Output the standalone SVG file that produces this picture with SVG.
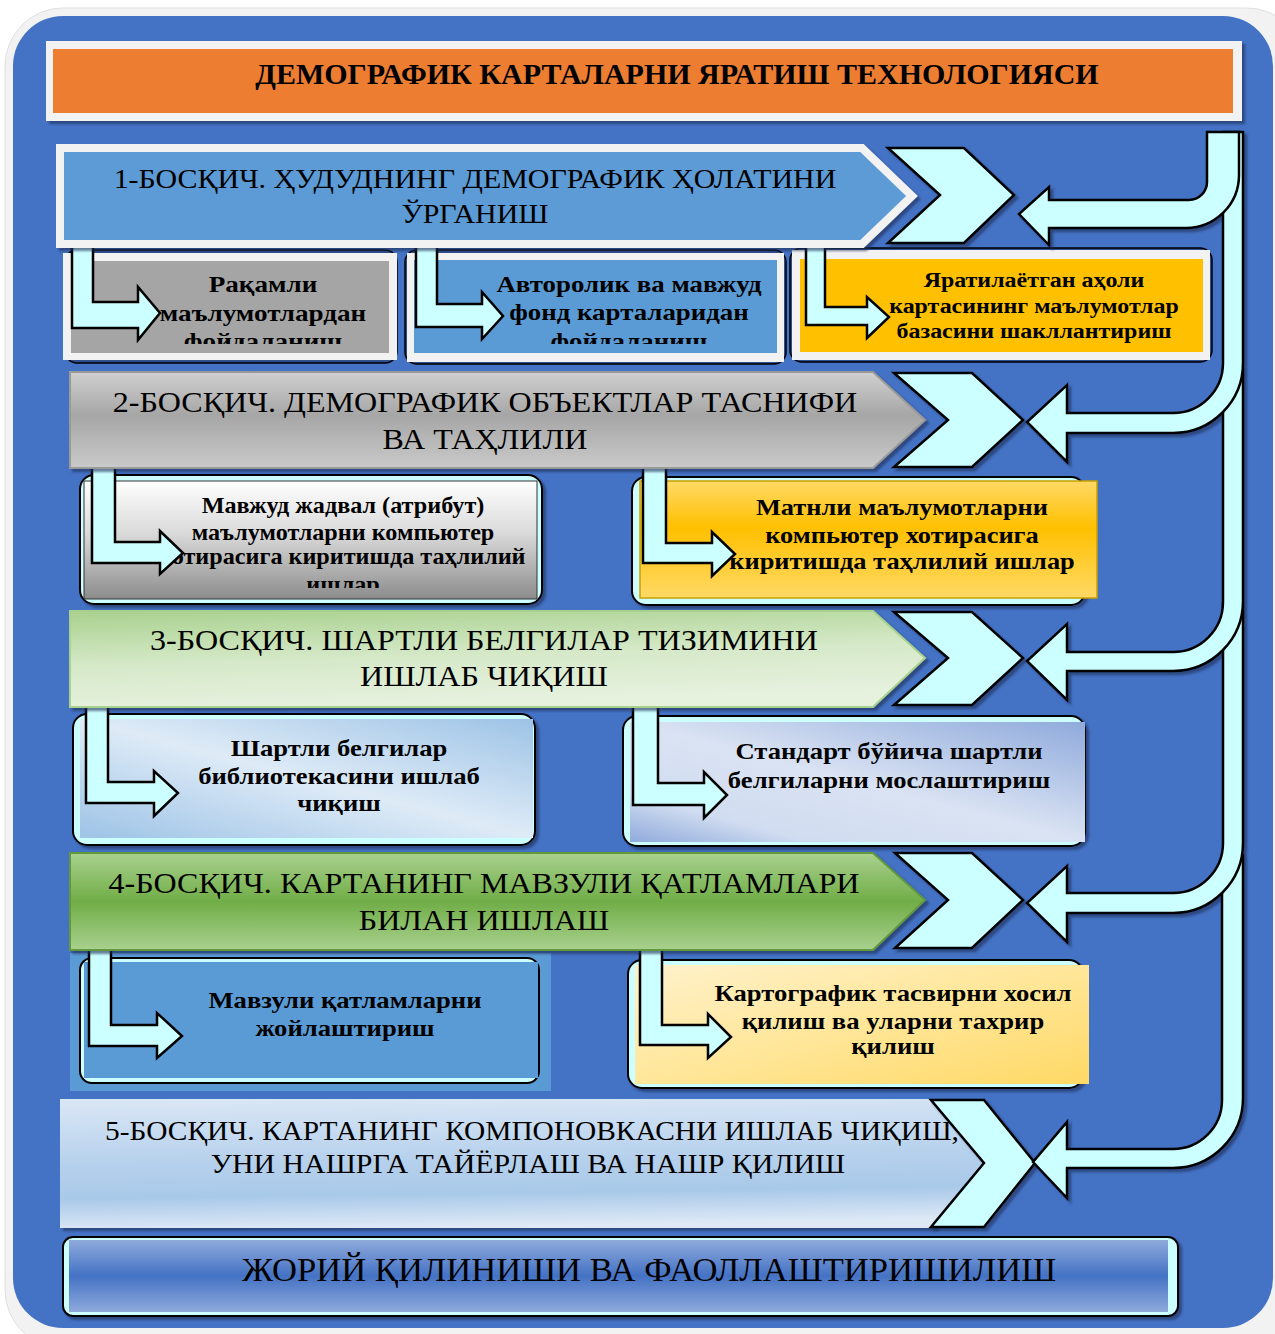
<svg xmlns="http://www.w3.org/2000/svg" width="1275" height="1334" viewBox="0 0 1275 1334">
<defs>
<style>
.stage{font-family:"Liberation Serif","Times New Roman",serif;font-size:28px;fill:#000;text-anchor:middle}
.stageL{font-family:"Liberation Serif","Times New Roman",serif;font-size:30px;fill:#000;text-anchor:middle}
.sub{font-family:"Liberation Serif","Times New Roman",serif;font-weight:bold;font-size:24px;fill:#000;text-anchor:middle}
.title{font-family:"Liberation Serif","Times New Roman",serif;font-weight:bold;font-size:30px;fill:#000;text-anchor:middle}
.cy{fill:#CCFFFF;stroke:#000;stroke-width:2.5;stroke-linejoin:miter}
.bent{fill:#CCFFFF;stroke:#000;stroke-width:2.5}
.frame{fill:#CCFFFF;stroke:#000;stroke-width:2}
.wf{fill:#F2F2F2}
</style>
<filter id="sh" x="-10%" y="-10%" width="130%" height="130%">
<feDropShadow dx="3" dy="3" stdDeviation="1" flood-color="#1F2F55" flood-opacity="0.6"/>
</filter>
<linearGradient id="g2" x1="0" y1="0" x2="0" y2="1"><stop offset="0" stop-color="#D0D0D0"/><stop offset="0.45" stop-color="#A6A6A6"/><stop offset="1" stop-color="#CACACA"/></linearGradient>
<linearGradient id="g3" x1="0" y1="0" x2="0.25" y2="1"><stop offset="0" stop-color="#A9D18E"/><stop offset="0.55" stop-color="#D6E9C9"/><stop offset="1" stop-color="#E6F1DE"/></linearGradient>
<linearGradient id="g4" x1="0" y1="0" x2="0" y2="1"><stop offset="0" stop-color="#A9D18E"/><stop offset="0.5" stop-color="#70AD47"/><stop offset="1" stop-color="#A9D18E"/></linearGradient>
<linearGradient id="g5" x1="0.2" y1="0" x2="0.3" y2="1"><stop offset="0" stop-color="#D9E6F5"/><stop offset="0.5" stop-color="#B5D0EC"/><stop offset="0.75" stop-color="#A9C9E9"/><stop offset="1" stop-color="#DEE9F6"/></linearGradient>
<linearGradient id="gf" x1="0" y1="0" x2="0" y2="1"><stop offset="0" stop-color="#8FAADC"/><stop offset="0.5" stop-color="#4472C4"/><stop offset="1" stop-color="#8FAADC"/></linearGradient>
<linearGradient id="b2a" x1="0" y1="0" x2="0" y2="1"><stop offset="0" stop-color="#FFFFFF"/><stop offset="0.45" stop-color="#D9D9D9"/><stop offset="1" stop-color="#8C8C8C"/></linearGradient>
<linearGradient id="b2b" x1="0" y1="0" x2="0" y2="1"><stop offset="0" stop-color="#FFD966"/><stop offset="0.4" stop-color="#FFC000"/><stop offset="1" stop-color="#FFD966"/></linearGradient>
<linearGradient id="b3a" x1="1" y1="0" x2="0" y2="1"><stop offset="0" stop-color="#9DC3E6"/><stop offset="0.5" stop-color="#DEEBF7"/><stop offset="1" stop-color="#9DC3E6"/></linearGradient>
<linearGradient id="b3b" x1="1" y1="0" x2="0" y2="1"><stop offset="0" stop-color="#8FAADC"/><stop offset="0.5" stop-color="#DAE3F3"/><stop offset="0.8" stop-color="#D0DCF0"/><stop offset="1" stop-color="#8FAADC"/></linearGradient>
<linearGradient id="b4b" x1="0" y1="0" x2="1" y2="1"><stop offset="0" stop-color="#FFF2CC"/><stop offset="0.5" stop-color="#FFE699"/><stop offset="1" stop-color="#FFD966"/></linearGradient>
<clipPath id="c1"><rect x="60" y="250" width="1160" height="94"/></clipPath>
<clipPath id="c2"><rect x="80" y="470" width="470" height="118"/></clipPath>
</defs>

<!-- background -->
<rect x="0" y="0" width="1275" height="1334" fill="#FFFFFF"/>
<rect x="5" y="8" width="1300" height="1340" rx="58" fill="#F2F2F2" stroke="#E0E0E0" stroke-width="1"/>
<rect x="13" y="16" width="1260" height="1312" rx="50" fill="#4472C4"/>

<!-- title -->
<g id="title">
<rect x="46" y="41" width="1196" height="80" class="wf" filter="url(#sh)"/>
<rect x="53" y="49" width="1180" height="64" fill="#ED7D31"/>
<text class="title" x="677" y="84">ДЕМОГРАФИК КАРТАЛАРНИ ЯРАТИШ ТЕХНОЛОГИЯСИ</text>
</g>

<!-- sub boxes row 1 -->
<g id="box1a">
<rect x="65" y="250" width="332" height="113" rx="12" fill="#2F4F8F" stroke="#000" stroke-width="1.5"/>
<rect x="63" y="253" width="334" height="107" class="wf"/>
<rect x="71" y="261" width="318" height="92" fill="#A5A5A5"/>
</g>
<g id="box1b">
<rect x="405" y="250" width="381" height="114" rx="12" fill="#2F4F8F" stroke="#000" stroke-width="1.5"/>
<rect x="407" y="253" width="377" height="109" class="wf"/>
<rect x="414" y="260" width="363" height="93" fill="#5B9BD5"/>
</g>
<g id="box1c">
<rect x="790" y="248" width="422" height="114" rx="12" fill="#2F4F8F" stroke="#000" stroke-width="1.5"/>
<rect x="792" y="250" width="418" height="110" class="wf"/>
<rect x="800" y="259" width="403" height="93" fill="#FFC000"/>
</g>

<!-- sub boxes row 2 -->
<g id="box2a">
<rect x="80" y="475" width="462" height="129" rx="14" class="frame" filter="url(#sh)"/>
<rect x="84" y="481" width="453" height="118" fill="url(#b2a)" stroke="#333" stroke-width="1"/>
</g>
<g id="box2b">
<rect x="632" y="477" width="453" height="128" rx="14" class="frame" filter="url(#sh)"/>
<rect x="640" y="481" width="457" height="117" fill="url(#b2b)" stroke="#C9A000" stroke-width="1.5"/>
</g>

<!-- sub boxes row 3 -->
<g id="box3a">
<rect x="73" y="714" width="462" height="131" rx="14" class="frame" filter="url(#sh)"/>
<rect x="80" y="719" width="453" height="119" fill="url(#b3a)"/>
</g>
<g id="box3b">
<rect x="623" y="716" width="462" height="130" rx="14" class="frame" filter="url(#sh)"/>
<rect x="630" y="722" width="455" height="120" fill="url(#b3b)"/>
</g>

<!-- sub boxes row 4 -->
<g id="box4a">
<rect x="70" y="953" width="481" height="138" fill="#5B9BD5"/>
<rect x="80" y="958" width="459" height="125" rx="12" class="frame"/>
<rect x="84" y="962" width="454" height="116" fill="#5B9BD5"/>
</g>
<g id="box4b">
<rect x="628" y="960" width="455" height="128" rx="14" class="frame" filter="url(#sh)"/>
<rect x="635" y="965" width="454" height="119" fill="url(#b4b)"/>
</g>

<!-- sub texts -->
<g clip-path="url(#c1)">
<g id="t1a" transform="matrix(1.13,0,0,1,-34.19,0)">
<text class="sub" x="263" y="292">Рақамли</text>
<text class="sub" x="263" y="321">маълумотлардан</text>
<text class="sub" x="263" y="349">фойдаланиш</text>
</g>
<g id="t1b" transform="matrix(1.12,0,0,1,-75.48,0)">
<text class="sub" x="629" y="292">Авторолик ва мавжуд</text>
<text class="sub" x="629" y="320">фонд карталаридан</text>
<text class="sub" x="629" y="349">фойдаланиш</text>
</g>
</g>
<g id="t1c" transform="matrix(1.14,0,0,1,-144.76,0)">
<text class="sub" x="1034" y="287" style="font-size:21px">Яратилаётган аҳоли</text>
<text class="sub" x="1034" y="313" style="font-size:21px">картасининг маълумотлар</text>
<text class="sub" x="1034" y="338" style="font-size:21px">базасини шакллантириш</text>
</g>
<g clip-path="url(#c2)">
<g id="t2a" transform="matrix(1.075,0,0,1,-25.7,0)">
<text class="sub" x="343" y="513" style="font-size:22.5px">Мавжуд жадвал (атрибут)</text>
<text class="sub" x="343" y="540" style="font-size:22.5px">маълумотларни компьютер</text>
<text class="sub" x="343" y="564" style="font-size:22.5px">хотирасига киритишда таҳлилий</text>
<text class="sub" x="343" y="592" style="font-size:22.5px">ишлар</text>
</g>
</g>
<g id="t2b" transform="matrix(1.1,0,0,1,-90.2,0)">
<text class="sub" x="902" y="515">Матнли маълумотларни</text>
<text class="sub" x="902" y="543">компьютер хотирасига</text>
<text class="sub" x="902" y="569">киритишда таҳлилий ишлар</text>
</g>
<g id="t3a" transform="matrix(1.11,0,0,1,-37.29,0)">
<text class="sub" x="339" y="756">Шартли белгилар</text>
<text class="sub" x="339" y="784">библиотекасини ишлаб</text>
<text class="sub" x="339" y="811">чиқиш</text>
</g>
<g id="t3b" transform="matrix(1.11,0,0,1,-97.79,0)">
<text class="sub" x="889" y="759">Стандарт бўйича шартли</text>
<text class="sub" x="889" y="788">белгиларни мослаштириш</text>
</g>
<g id="t4a" transform="matrix(1.11,0,0,1,-37.95,0)">
<text class="sub" x="345" y="1008">Мавзули қатламларни</text>
<text class="sub" x="345" y="1036">жойлаштириш</text>
</g>
<g id="t4b" transform="matrix(1.11,0,0,1,-98.23,0)">
<text class="sub" x="893" y="1001">Картографик тасвирни хосил</text>
<text class="sub" x="893" y="1029">қилиш ва уларни тахрир</text>
<text class="sub" x="893" y="1054">қилиш</text>
</g>

<!-- connectors -->
<g id="connectors">
<path class="bent" d="M72,244 H93 V302 H138 V287 L160,313 L138,340 V328 H72 Z"/>
<path class="bent" d="M416,244 H437 V304 H482 V292 L503,316 L482,339 V327 H416 Z"/>
<path class="bent" d="M806,244 H825 V307 H867 V297 L889,317 L867,338 V325 H806 Z"/>
<path class="bent" d="M92,466 H115 V542 H160 V531 L183,553 L160,574 V563 H92 Z"/>
<path class="bent" d="M643,466 H666 V543 H712 V532 L735,554 L712,576 V563 H643 Z"/>
<path class="bent" d="M86,705 H108 V782 H154 V771 L178,793 L154,816 V803 H86 Z"/>
<path class="bent" d="M633,705 H658 V783 H704 V772 L727,795 L704,818 V805 H633 Z"/>
<path class="bent" d="M89,947 H111 V1025 H157 V1013 L182,1036 L157,1058 V1046 H89 Z"/>
<path class="bent" d="M640,947 H662 V1025 H708 V1014 L731,1037 L708,1058 V1045 H640 Z"/>
</g>

<!-- stages -->
<g id="stage1">
<polygon points="60,148 862,148 912,196 862,244 60,244" fill="#5B9BD5" stroke="#F2F2F2" stroke-width="8" filter="url(#sh)"/>
<g transform="matrix(1.07,0,0,1,-33.25,0)">
<text class="stage" x="475" y="188">1-БОСҚИЧ. ҲУДУДНИНГ ДЕМОГРАФИК ҲОЛАТИНИ</text>
<text class="stage" x="475" y="223">ЎРГАНИШ</text>
</g>
</g>
<g id="stage2">
<polygon points="70,372 873,372 925,420 873,468 70,468" fill="url(#g2)" stroke="#9A9A9A" stroke-width="2" filter="url(#sh)"/>
<g transform="matrix(1.07,0,0,1,-33.95,0)">
<text class="stageL" x="485" y="412">2-БОСҚИЧ. ДЕМОГРАФИК ОБЪЕКТЛАР ТАСНИФИ</text>
<text class="stageL" x="485" y="449">ВА ТАҲЛИЛИ</text>
</g>
</g>
<g id="stage3">
<polygon points="70,611 873,611 925,658 873,707 70,707" fill="url(#g3)" stroke="#A9D18E" stroke-width="2" filter="url(#sh)"/>
<g transform="matrix(1.07,0,0,1,-33.88,0)">
<text class="stageL" x="484" y="650">3-БОСҚИЧ. ШАРТЛИ БЕЛГИЛАР ТИЗИМИНИ</text>
<text class="stageL" x="484" y="686">ИШЛАБ ЧИҚИШ</text>
</g>
</g>
<g id="stage4">
<polygon points="70,853 873,853 925,900 873,950 70,950" fill="url(#g4)" stroke="#62993E" stroke-width="2" filter="url(#sh)"/>
<g transform="matrix(1.07,0,0,1,-33.88,0)">
<text class="stageL" x="484" y="893">4-БОСҚИЧ. КАРТАНИНГ МАВЗУЛИ ҚАТЛАМЛАРИ</text>
<text class="stageL" x="484" y="930">БИЛАН ИШЛАШ</text>
</g>
</g>
<g id="stage5">
<polygon points="60,1099 935,1099 985,1163 935,1228 60,1228" fill="url(#g5)" filter="url(#sh)"/>
</g>

<!-- chevrons -->
<g id="chevrons" filter="url(#sh)">
<polygon class="cy" points="888,148 964,148 1014,195 964,243 888,243 940,195"/>
<polygon class="cy" points="894,373 972,373 1023,420 972,467 894,467 948,420"/>
<polygon class="cy" points="894,612 972,612 1023,658 972,705 894,705 948,658"/>
<polygon class="cy" points="895,853 972,853 1023,900 972,948 895,948 948,900"/>
<polygon class="cy" points="931,1100 984,1100 1035,1163 984,1227 931,1227 984,1163"/>
</g>

<g id="stage5text">
<text class="stage" x="532" y="1140" transform="matrix(1.05,0,0,1,-26.6,0)">5-БОСҚИЧ. КАРТАНИНГ КОМПОНОВКАСНИ ИШЛАБ ЧИҚИШ,</text>
<text class="stage" x="528" y="1173" transform="matrix(1.067,0,0,1,-35.38,0)">УНИ НАШРГА ТАЙЁРЛАШ ВА НАШР ҚИЛИШ</text>
</g>

<!-- feedback pipes -->
<g id="pipes" filter="url(#sh)">
<path class="cy" d="M1222,855 H1243 V1098 A70,70 0 0 1 1173,1168 H1067 V1198 L1033,1162 L1067,1122 V1149 H1173 A49,49 0 0 0 1222,1100 Z"/>
<path class="cy" d="M1223,603 H1243 V843 A70,70 0 0 1 1173,913 H1067 V942 L1027,903 L1067,866 V893 H1173 A50,50 0 0 0 1223,843 Z"/>
<path class="cy" d="M1223,368 H1243 V601 A70,70 0 0 1 1173,671 H1067 V700 L1027,661 L1067,624 V652 H1173 A50,50 0 0 0 1223,602 Z"/>
<path class="cy" d="M1223,132 H1243 V363 A70,70 0 0 1 1173,433 H1067 V462 L1027,422 L1067,385 V413 H1173 A50,50 0 0 0 1223,363 Z"/>
<path class="cy" d="M1207,132 H1239 V175 A53,53 0 0 1 1186,228 H1049 V245 L1019,214 L1049,187 V200 H1189 A18,18 0 0 0 1207,182 Z"/>
</g>

<!-- final bar -->
<g id="final">
<rect x="63" y="1237" width="1115" height="79" rx="10" class="frame" filter="url(#sh)"/>
<rect x="69" y="1240" width="1099" height="72" fill="url(#gf)"/>
<text class="stage" x="649" y="1281" style="font-size:33px" transform="matrix(1.048,0,0,1,-31.15,0)">ЖОРИЙ ҚИЛИНИШИ ВА ФАОЛЛАШТИРИШИЛИШ</text>
</g>
</svg>
